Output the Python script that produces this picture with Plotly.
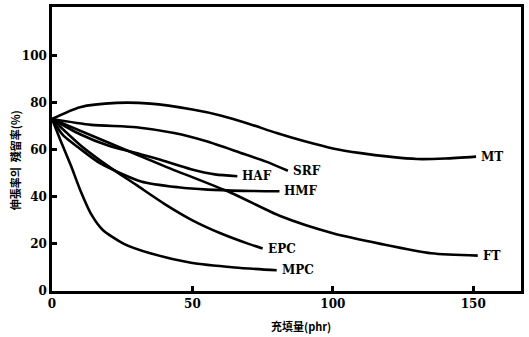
import plotly.graph_objects as go

# Residual elongation (%) versus filler loading (phr) for each filler type
mt_x = [0, 10, 23, 35, 50, 60, 70, 80, 90, 100, 110, 120, 130, 140, 151]
mt_y = [73, 78, 79.8, 79.5, 77, 74.5, 71, 67, 63.5, 60.5, 58.5, 57, 56, 56.2, 57]

srf_x = [0, 14, 30, 43.5, 55, 67, 76, 84]
srf_y = [73, 70.5, 69.5, 67, 63.5, 58.7, 55, 51]

haf_x = [0, 10, 20, 30, 37.7, 49.5, 58, 66]
haf_y = [73, 66.5, 61.7, 58.5, 56, 51.7, 49.5, 48.7]

hmf_x = [0, 4, 9.3, 17.4, 31.7, 45, 55.5, 68, 81]
hmf_y = [73, 66, 61, 54, 46.5, 44, 43, 42.5, 42.3]

ft_x = [0, 20, 40, 63.7, 81.5, 100, 117, 135, 151.6]
ft_y = [73, 63, 53, 41.7, 31.7, 24.5, 20, 16, 15]

epc_x = [0, 10, 20, 30, 40, 50, 60, 70, 75]
epc_y = [73, 62, 53, 45, 37, 30, 24.5, 20, 18]

mpc_x = [0, 3, 6.8, 10, 14, 18, 25.6, 35, 49.5, 65, 80]
mpc_y = [73, 64, 53, 43, 32.5, 26, 20, 16, 12, 10, 8.8]

series = [
    ("MT", mt_x, mt_y),
    ("SRF", srf_x, srf_y),
    ("HAF", haf_x, haf_y),
    ("HMF", hmf_x, hmf_y),
    ("FT", ft_x, ft_y),
    ("EPC", epc_x, epc_y),
    ("MPC", mpc_x, mpc_y),
]

x_ticks = [0, 50, 100, 150]
y_ticks = [0, 20, 40, 60, 80, 100]

label_font = dict(family="DejaVu Serif, serif", size=12, color="black")

fig = go.Figure()
for name, xs, ys in series:
    fig.add_trace(go.Scatter(
        x=xs, y=ys, mode="lines", name=name,
        line=dict(color="black", width=2.6, shape="spline", smoothing=0.7),
        showlegend=False, hoverinfo="skip",
    ))
    fig.add_annotation(
        x=xs[-1], y=ys[-1], text="<b>" + name + "</b>", showarrow=False,
        xanchor="left", yanchor="middle", xshift=3, font=label_font,
    )

axis_common = dict(
    showgrid=False, zeroline=False, showline=True, linecolor="black",
    linewidth=2.5, mirror=True, ticks="inside", ticklen=5, tickwidth=2.5,
    tickcolor="black", tickfont=dict(family="DejaVu Serif, serif", size=12,
                                     color="black", weight="bold"),
)

fig.update_xaxes(range=[0, 167], tickvals=x_ticks, **axis_common)
fig.update_yaxes(range=[0, 120.5], tickvals=y_ticks, **axis_common)

# Axis titles
fig.add_annotation(
    xref="paper", yref="paper", x=0.53, y=-0.122, yanchor="middle",
    text="<b>充填量(phr)</b>", showarrow=False,
    font=dict(family="Noto Sans CJK KR", size=11, color="black"),
)
fig.add_annotation(
    xref="paper", yref="paper", x=-0.079, y=0.46, xanchor="center",
    yanchor="middle",
    text="<b>伸張率의  殘留率(%)</b>", showarrow=False, textangle=-90,
    font=dict(family="Noto Sans CJK KR", size=11, color="black"),
)

fig.update_layout(
    width=529, height=337,
    margin=dict(l=52, r=8, t=4, b=46),
    paper_bgcolor="white", plot_bgcolor="white",
)

fig.write_html("out.html")
